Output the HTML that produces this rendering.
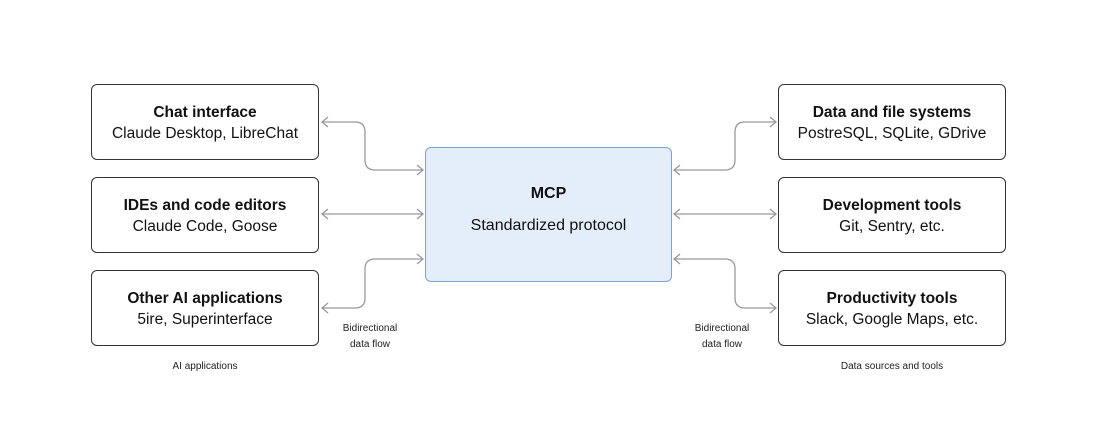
<!DOCTYPE html>
<html><head><style>
body{margin:0;background:#fff;width:1100px;height:430px;position:relative;font-family:"Liberation Sans",Helvetica,sans-serif;color:#111;overflow:hidden}
.b{position:absolute;width:228px;height:76px;border:1.3px solid #333;border-radius:6px;box-sizing:border-box;text-align:center;background:#fff}
.b b{display:block;font-size:15.5px;margin-top:18px;line-height:20px}
.b span{display:block;font-size:15.5px;line-height:22px}
.c{position:absolute;left:425px;top:147px;width:247px;height:135px;border:1.3px solid #7aa3d6;background:#e4eefb;border-radius:6px;box-sizing:border-box;text-align:center}
.s{position:absolute;font-size:10px;text-align:center;line-height:16px;color:#222}
</style></head><body>
<svg width="1100" height="430" style="position:absolute;left:0;top:0" fill="none" stroke="#999" stroke-width="1.3">
<path d="M322 122 H355 Q365 122 365 132 V160 Q365 170 375 170 H423"/>
<path d="M322 214 H423"/>
<path d="M322 308 H355 Q365 308 365 298 V269 Q365 259 375 259 H423"/>
<path d="M674 170 H725 Q735 170 735 160 V132 Q735 122 745 122 H776"/>
<path d="M674 214 H776"/>
<path d="M674 259 H725 Q735 259 735 269 V298 Q735 308 745 308 H776"/>
<g>
<path d="M328 117 L322 122 L328 127"/><path d="M328 209 L322 214 L328 219"/><path d="M328 303 L322 308 L328 313"/>
<path d="M417 165 L423 170 L417 175"/><path d="M417 209 L423 214 L417 219"/><path d="M417 254 L423 259 L417 264"/>
<path d="M680 165 L674 170 L680 175"/><path d="M680 209 L674 214 L680 219"/><path d="M680 254 L674 259 L680 264"/>
<path d="M770 117 L776 122 L770 127"/><path d="M770 209 L776 214 L770 219"/><path d="M770 303 L776 308 L770 313"/>
</g></svg>
<div class="b" style="left:91px;top:84px"><b>Chat interface</b><span>Claude Desktop, LibreChat</span></div>
<div class="b" style="left:91px;top:177px"><b>IDEs and code editors</b><span>Claude Code, Goose</span></div>
<div class="b" style="left:91px;top:270px"><b>Other AI applications</b><span>5ire, Superinterface</span></div>
<div class="b" style="left:778px;top:84px"><b>Data and file systems</b><span>PostreSQL, SQLite, GDrive</span></div>
<div class="b" style="left:778px;top:177px"><b>Development tools</b><span>Git, Sentry, etc.</span></div>
<div class="b" style="left:778px;top:270px"><b>Productivity tools</b><span>Slack, Google Maps, etc.</span></div>
<div class="c"><div style="font-size:16px;font-weight:bold;margin-top:37px">MCP</div><div style="font-size:16px;margin-top:14px">Standardized protocol</div></div>
<div class="s" style="left:320px;top:321px;width:100px">Bidirectional<br>data flow</div>
<div class="s" style="left:672px;top:321px;width:100px">Bidirectional<br>data flow</div>
<div class="s" style="left:91px;top:359px;width:228px">AI applications</div>
<div class="s" style="left:778px;top:359px;width:228px">Data sources and tools</div>
</body></html>
